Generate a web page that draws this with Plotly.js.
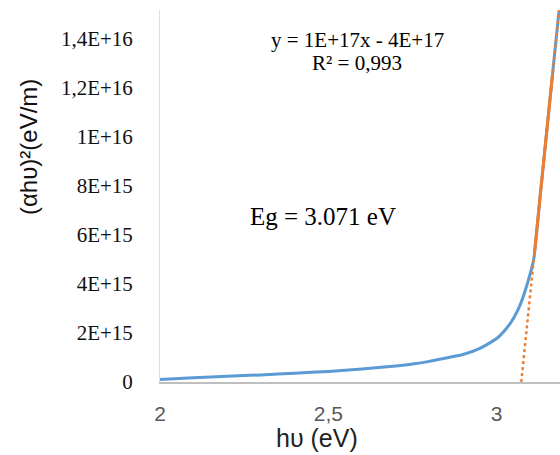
<!DOCTYPE html>
<html>
<head>
<meta charset="utf-8">
<script src="https://cdn.plot.ly/plotly-3.0.1.min.js"></script>
<style>html,body{margin:0;padding:0;background:#fff;}#chart{width:560px;height:455px;}</style>
</head>
<body>
<div id="chart"></div>
<script>
// Measured curve (αhυ)² vs hυ
var photonEnergy = [2.00, 2.10, 2.20, 2.30, 2.40, 2.50, 2.60, 2.70, 2.75, 2.80, 2.85, 2.90, 2.95, 3.00, 3.03, 3.05, 3.07, 3.09, 3.11, 3.13, 3.15, 3.17, 3.185];
var absorption = [0.10e15, 0.17e15, 0.23e15, 0.29e15, 0.36e15, 0.43e15, 0.53e15, 0.65e15, 0.73e15, 0.84e15, 0.98e15, 1.12e15, 1.37e15, 1.77e15, 2.20e15, 2.60e15, 3.15e15, 3.96e15, 5.00e15, 7.70e15, 10.40e15, 13.10e15, 15.10e15];

// Linear fit (solid over fitted range, dotted extrapolation)
var fitSolidX = [3.112, 3.166];
var fitSolidY = [5.26e15, 12.56e15];
var fitDotX = [3.073, 3.188];
var fitDotY = [0, 15.5e15];

var yTickVals = [0, 2e15, 4e15, 6e15, 8e15, 1e16, 1.2e16, 1.4e16];
var yTickText = ["0", "2E+15", "4E+15", "6E+15", "8E+15", "1E+16", "1,2E+16", "1,4E+16"];
var xTickVals = [2, 2.5, 3];
var xTickText = ["2", "2,5", "3"];

var traces = [
  {x: photonEnergy, y: absorption, mode: 'lines', line: {color: '#5B9BD5', width: 3, shape: 'spline', smoothing: 0.5}, hoverinfo: 'none'},
  {x: fitDotX, y: fitDotY, mode: 'lines', line: {color: '#ED7D31', width: 2.5, dash: 'dot'}, hoverinfo: 'none'},
  {x: fitSolidX, y: fitSolidY, mode: 'lines', line: {color: '#ED7D31', width: 3}, hoverinfo: 'none'}
];

var serif = '"Liberation Serif", "Times New Roman", serif';
var sans = '"Liberation Sans", Arial, sans-serif';
var PT = 10, PB = 382, PH = PB - PT;
function py(p) { return (PB - p) / PH; }
function px(p) { return (p - 160) / 400; }

var layout = {
  width: 560, height: 455,
  margin: {l: 160, r: 0, t: PT, b: 455 - PB},
  paper_bgcolor: '#fff', plot_bgcolor: '#fff',
  showlegend: false,
  xaxis: {
    range: [2, 3.188], tickvals: xTickVals, ticktext: xTickText,
    showgrid: false, zeroline: false, showline: true, linecolor: '#BFBFBF', linewidth: 1.5,
    ticks: '', ticklabelstandoff: 12,
    tickfont: {family: sans, size: 21, color: '#595959'}
  },
  yaxis: {
    range: [0, 1.515e16], tickvals: yTickVals, ticktext: yTickText,
    showgrid: false, zeroline: false, showline: true, linecolor: '#E0E0E0', linewidth: 1,
    ticks: '', ticklabelstandoff: 22,
    tickfont: {family: serif, size: 21, color: '#111'}
  },
  annotations: [
    {text: 'y = 1E+17x - 4E+17', xref: 'paper', yref: 'paper', x: px(357), y: py(40), xanchor: 'center', yanchor: 'middle', showarrow: false, font: {family: serif, size: 21, color: '#000'}},
    {text: 'R² = 0,993', xref: 'paper', yref: 'paper', x: px(357), y: py(63), xanchor: 'center', yanchor: 'middle', showarrow: false, font: {family: serif, size: 21, color: '#000'}},
    {text: 'Eg = 3.071 eV', xref: 'paper', yref: 'paper', x: px(323), y: py(217), xanchor: 'center', yanchor: 'middle', showarrow: false, font: {family: serif, size: 25, color: '#000'}},
    {text: 'hυ (eV)', xref: 'paper', yref: 'paper', x: px(317), y: py(454), xanchor: 'center', yanchor: 'bottom', showarrow: false, font: {family: sans, size: 25, color: '#222'}},
    {text: '(αhυ)²(eV/m)', xref: 'paper', yref: 'paper', x: px(28), y: py(147), xanchor: 'center', yanchor: 'middle', textangle: -90, showarrow: false, font: {family: sans, size: 24, color: '#111'}}
  ]
};

Plotly.newPlot('chart', traces, layout, {staticPlot: true, displayModeBar: false});
</script>
</body>
</html>
